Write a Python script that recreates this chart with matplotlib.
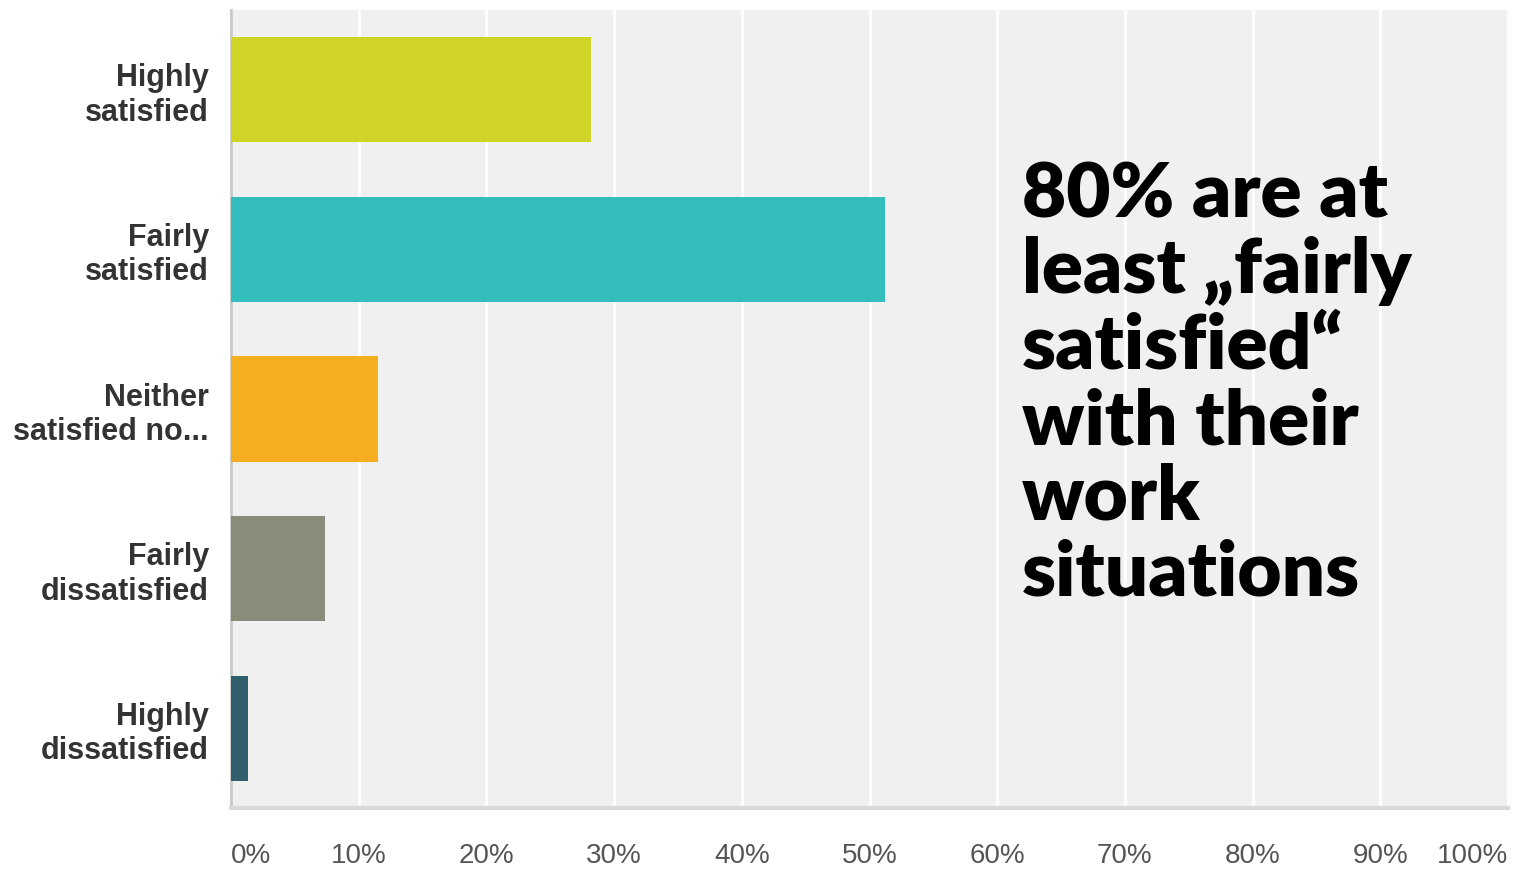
import numpy as np
import matplotlib.pyplot as plt

# survey answers and share of respondents (%)
categories = ['Highly\nsatisfied', 'Fairly\nsatisfied', 'Neither\nsatisfied no...',
              'Fairly\ndissatisfied', 'Highly\ndissatisfied']
shares = [28.2, 51.2, 11.5, 7.4, 1.3]
colors = ['#cfd426', '#33bdbd', '#f5ae20', '#8a8b78', '#2f5f6c']
xticks = [0, 10, 20, 30, 40, 50, 60, 70, 80, 90, 100]
xticklabels = ['%d%%' % t for t in xticks]
note = '80% are at\nleast \u201efairly\nsatisfied\u201c\nwith their\nwork\nsituations'

W, H = 1517, 872
fig = plt.figure(figsize=(W / 100, H / 100), dpi=100)
ax = fig.add_axes([231 / W, 1 - 808 / H, (1508 - 231) / W, (808 - 10) / H])
ax.set_facecolor('#f0f0f0')

y = np.arange(len(categories))
ax.barh(y, shares, height=0.66, color=colors, zorder=3)

ax.set_xlim(0, 100)
ax.set_ylim(len(categories) - 0.5, -0.5)

# vertical white grid
ax.set_xticks(xticks)
ax.xaxis.grid(True, color='white', linewidth=2, zorder=1)
ax.yaxis.grid(False)
ax.tick_params(axis='both', length=0)

ax.set_xticklabels(xticklabels, fontsize=20, color='#555555', family='Liberation Sans')
ax.tick_params(axis='x', pad=25)
lbls = ax.get_xticklabels()
lbls[0].set_ha('left')
lbls[-1].set_ha('right')

ax.set_yticks(y)
ax.set_yticklabels(categories, fontsize=22, fontweight='bold', color='#333333',
                   family='Liberation Sans', linespacing=1.2)
ax.tick_params(axis='y', pad=16)

for s in ['top', 'right']:
    ax.spines[s].set_visible(False)
ax.spines['left'].set_color('#c8c8c8')
ax.spines['left'].set_linewidth(2)
ax.spines['bottom'].set_color('#d9d9d9')
ax.spines['bottom'].set_linewidth(3)

ax.text(1022 / W, 1 - 160 / H, note, transform=fig.transFigure, ha='left', va='top',
        fontsize=55, fontweight='heavy', family=['Lato', 'DejaVu Sans'],
        color='black', linespacing=1.1)

fig.savefig('out.png', dpi=100)
